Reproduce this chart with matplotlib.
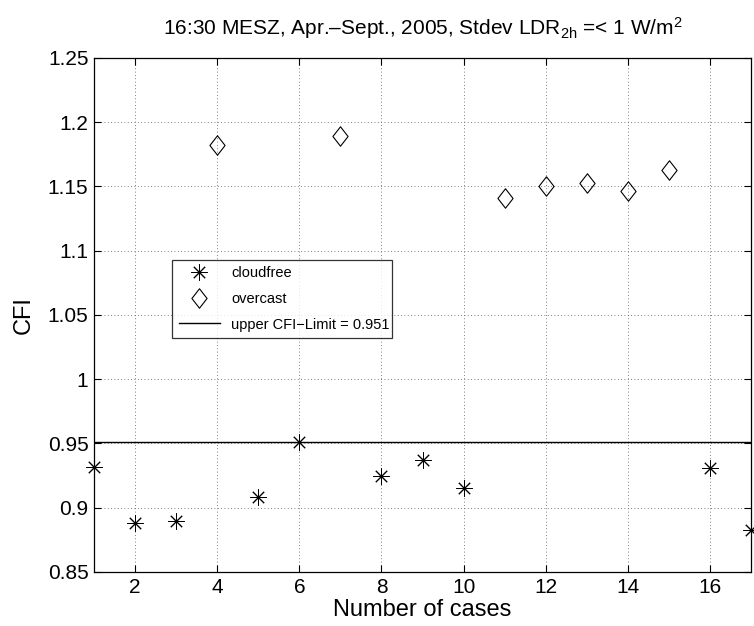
import matplotlib
matplotlib.use("Agg")
import matplotlib.pyplot as plt
from matplotlib.path import Path
import numpy as np

plt.rcParams['font.family'] = ['Liberation Sans', 'DejaVu Sans']
plt.rcParams['mathtext.fontset'] = 'custom'
plt.rcParams['mathtext.rm'] = 'Liberation Sans'
plt.rcParams['mathtext.it'] = 'Liberation Sans'

cloud_x = [1, 2, 3, 5, 6, 8, 9, 10, 16, 17]
cloud_y = [0.932, 0.888, 0.890, 0.908, 0.951, 0.925, 0.937, 0.915, 0.931, 0.883]
over_x = [4, 7, 11, 12, 13, 14, 15]
over_y = [1.1825, 1.1895, 1.141, 1.150, 1.153, 1.1466, 1.163]
cfi_limit = 0.951

xticks = [2, 4, 6, 8, 10, 12, 14, 16]
yticks = [0.85, 0.9, 0.95, 1, 1.05, 1.1, 1.15, 1.2, 1.25]
yticklabels = ['0.85', '0.9', '0.95', '1', '1.05', '1.1', '1.15', '1.2', '1.25']

fig = plt.figure(figsize=(7.54, 6.26), dpi=100)
ax = fig.add_axes([0.1247, 0.0863, 0.8713, 0.8211])

diamond = Path([(0, 1), (0.78, 0), (0, -1), (-0.78, 0), (0, 1)],
               [Path.MOVETO, Path.LINETO, Path.LINETO, Path.LINETO, Path.CLOSEPOLY])

ax.plot(cloud_x, cloud_y, linestyle='none', marker=(8, 2, 0), markersize=11.5,
        color='black', markeredgewidth=0.7, label='cloudfree', clip_on=False)
ax.plot(over_x, over_y, linestyle='none', marker=diamond, markersize=14,
        markerfacecolor='none', markeredgecolor='black', markeredgewidth=0.8,
        label='overcast')
ax.axhline(cfi_limit, color='black', linewidth=1.0,
           label='upper CFI\u2212Limit = 0.951')

ax.set_xlim(1, 17)
ax.set_ylim(0.85, 1.25)
ax.set_xticks(xticks)
ax.set_yticks(yticks)
ax.set_yticklabels(yticklabels)
ax.tick_params(direction='in', top=True, right=True, labelsize=15, length=5,
               width=0.8, pad=4)
ax.grid(True, linestyle=(0, (1, 3)), color='#555555', linewidth=0.6)
for s in ax.spines.values():
    s.set_linewidth(0.9)

ax.set_xlabel('Number of cases', fontsize=17, labelpad=2)
ax.set_ylabel('CFI', fontsize=17, labelpad=9)
ax.set_title('16:30 MESZ, Apr.\u2013Sept., 2005, Stdev LDR$_{\\mathrm{2h}}$ =< 1 W/m$^{2}$',
             fontsize=15, pad=17)

leg = ax.legend(loc='lower left', bbox_to_anchor=(0.119, 0.455, 0.334, 0.148),
                mode='expand', fontsize=10.5, frameon=True, fancybox=False,
                edgecolor='black', borderpad=0.45, labelspacing=0.8,
                handlelength=2.8, borderaxespad=0)
leg.get_frame().set_linewidth(0.9)

fig.savefig('out.png', dpi=100)
